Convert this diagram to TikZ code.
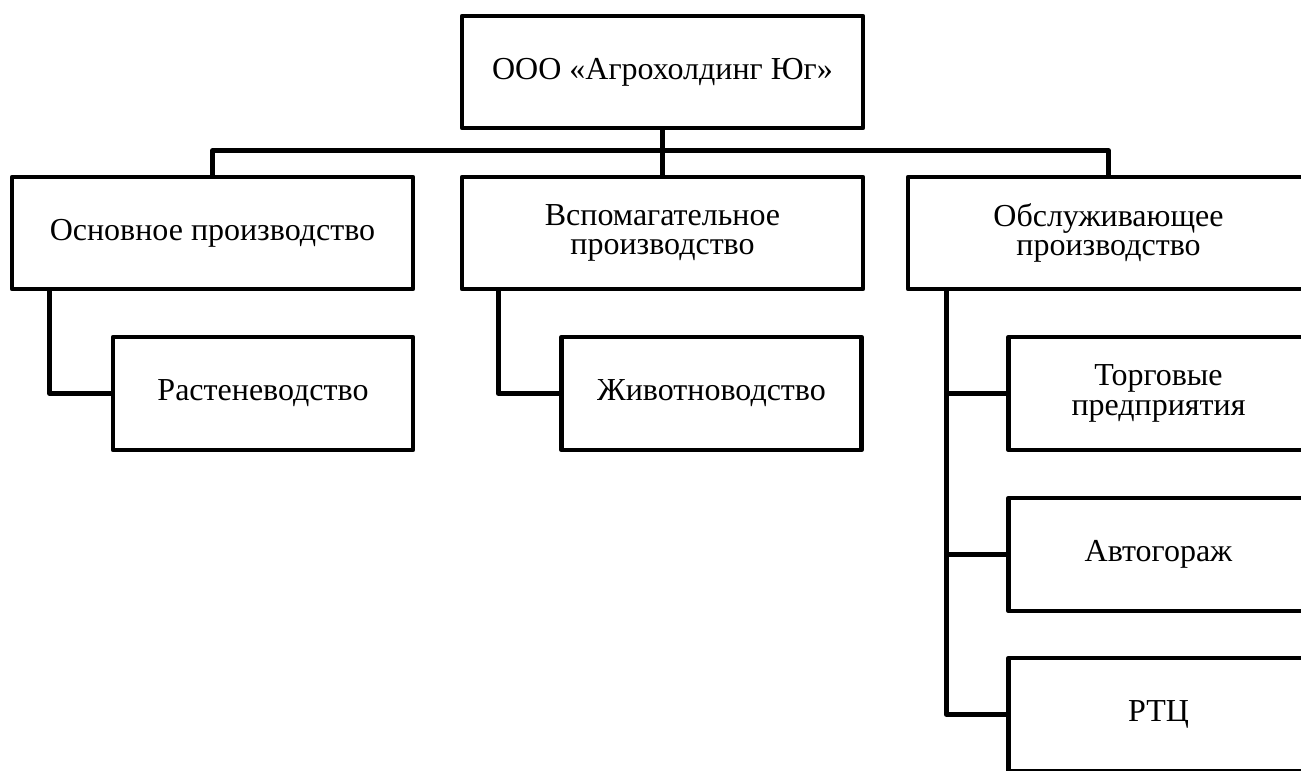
\documentclass[tikz,border=0pt]{standalone}
\usepackage{fontspec}
\setmainfont{Liberation Serif}
\usepackage{tikz}

\tikzset{
  unitbox/.style={draw, line width=3.6pt, line join=round, align=center,
    minimum width=300.75pt, minimum height=84pt, inner sep=0pt,
    font=\fontsize{24}{22}\selectfont},
  subbox/.style={unitbox, minimum width=225pt, minimum height=84.75pt},
  link/.style={line width=3.6pt, line join=round}
}

\begin{document}
\begin{tikzpicture}[x=0.75pt,y=0.75pt,yscale=-1,xscale=1]
\path[use as bounding box, clip] (0,0) rectangle (1301,770);

%Shapes
\node [unitbox] (top) at (662.5,72) {ООО «Агрохолдинг Юг»};
\node [unitbox] (osn) at (212.5,233) {Основное производство};
\node [unitbox] (vsp) at (662.5,233) {Вспомагательное\\производство};
\node [unitbox] (obs) at (1108.5,233) {Обслуживающее\\производство};

\node [subbox] (rast) at (263,393.5) {Растеневодство};
\node [subbox] (zhiv) at (711.5,393.5) {Животноводство};
\node [subbox] (torg) at (1158.5,393.5) {Торговые\\предприятия};
\node [subbox] (avto) at (1158.5,554.5) {Автогораж};
\node [subbox] (rtc) at (1158.5,714.5) {РТЦ};

%Straight Lines
\draw [link] (top.south) -- (vsp.north);
\draw [link] (osn.north) -- ++(0,-24) -| (obs.north);

\draw [link] ([xshift=30pt]osn.south west) |- (rast.west);
\draw [link] ([xshift=29pt]vsp.south west) |- (zhiv.west);

\coordinate (obsdown) at ([xshift=30.5pt]obs.south west);
\draw [link] (obsdown) |- (rtc.west);
\foreach \n in {torg,avto}
  \draw [link] (\n.west) -- (\n.west -| obsdown);

\end{tikzpicture}
\end{document}
